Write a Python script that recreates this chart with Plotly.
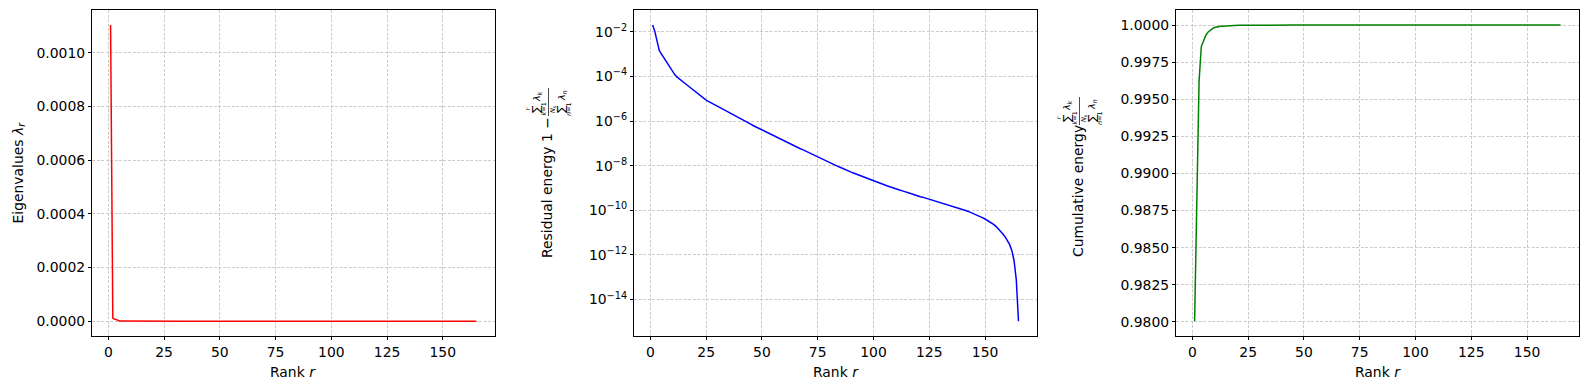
import plotly.graph_objects as go

W, H = 1590, 390

# ---------------- data ----------------
ranks = list(range(1, 166))

# log10 of residual energy 1 - sum_{k<=r} lambda_k / sum_n lambda_n, for r = 1..165
residual_log10 = [
    -1.70, -1.98, -2.42, -2.84, -3.00, -3.16, -3.32, -3.48, -3.63, -3.78,
    -3.93, -4.03, -4.12, -4.20, -4.28, -4.35, -4.43, -4.51, -4.59, -4.67,
    -4.75, -4.84, -4.93, -5.01, -5.06, -5.12, -5.17, -5.23, -5.28, -5.33,
    -5.39, -5.44, -5.50, -5.55, -5.60, -5.66, -5.71, -5.77, -5.82, -5.87,
    -5.93, -5.98, -6.04, -6.09, -6.14, -6.20, -6.25, -6.31, -6.36, -6.41,
    -6.46, -6.51, -6.55, -6.60, -6.65, -6.70, -6.75, -6.79, -6.84, -6.89,
    -6.94, -6.99, -7.03, -7.08, -7.13, -7.18, -7.23, -7.27, -7.32, -7.37,
    -7.42, -7.47, -7.51, -7.56, -7.61, -7.66, -7.70, -7.75, -7.80, -7.85,
    -7.89, -7.94, -7.98, -8.03, -8.07, -8.12, -8.16, -8.21, -8.25, -8.29,
    -8.33, -8.37, -8.41, -8.45, -8.49, -8.53, -8.57, -8.61, -8.65, -8.69,
    -8.72, -8.76, -8.79, -8.83, -8.86, -8.90, -8.93, -8.97, -9.00, -9.04,
    -9.07, -9.10, -9.13, -9.17, -9.20, -9.23, -9.26, -9.29, -9.33, -9.36,
    -9.39, -9.41, -9.44, -9.47, -9.50, -9.53, -9.55, -9.58, -9.61, -9.64,
    -9.67, -9.70, -9.73, -9.76, -9.79, -9.82, -9.855, -9.89, -9.925, -9.96,
    -9.995, -10.03, -10.07, -10.11, -10.155, -10.20, -10.245, -10.29, -10.34, -10.39,
    -10.445, -10.505, -10.57, -10.645, -10.73, -10.83, -10.94, -11.06, -11.19, -11.34,
    -11.53, -11.80, -12.25, -13.10, -14.97,
]
top_eigenvalue = 1.103e-3  # lambda_1

x_ticks = [0, 25, 50, 75, 100, 125, 150]
eig_ticks = [0.0, 0.0002, 0.0004, 0.0006, 0.0008, 0.0010]
res_tick_exps = [-2, -4, -6, -8, -10, -12, -14]
cum_ticks = [0.98, 0.9825, 0.985, 0.9875, 0.99, 0.9925, 0.995, 0.9975, 1.0]

# the three panels share the same eigenvalue spectrum
residual = [10 ** v for v in residual_log10]
total_energy = top_eigenvalue / (1 - residual[0])
cumulative = [1 - v for v in residual]
eigenvalues = [total_energy * (a - b) for a, b in zip([1.0] + residual[:-1], residual)]

# ---------------- layout helpers ----------------
def px(x):
    return x / W

def py(y):
    return 1 - y / H

def pad(lo, hi, f=0.05):
    d = (hi - lo) * f
    return [lo - d, hi + d]

FONT = "DejaVu Sans"
FS = 13.9
x_domains = [[px(92.3), px(494.5)], [px(634.3), px(1036.8)], [px(1176.3), px(1578.8)]]
y_domain = [py(336.0), py(10.3)]
x_range = pad(min(ranks), max(ranks))

common = dict(
    showline=True, linecolor="black", linewidth=0.8, mirror=True,
    ticks="outside", ticklen=3.5, tickwidth=0.8, tickcolor="black",
    showgrid=True, gridcolor="#cdcdcd", gridwidth=0.5, griddash="3px,1.5px",
    zeroline=False, automargin=False,
    tickfont=dict(family=FONT, size=FS, color="black"),
)

fig = go.Figure()
fig.add_trace(go.Scatter(x=ranks, y=eigenvalues, mode="lines",
                         line=dict(color="red", width=1.5), xaxis="x", yaxis="y"))
fig.add_trace(go.Scatter(x=ranks, y=residual, mode="lines",
                         line=dict(color="blue", width=1.5), xaxis="x2", yaxis="y2"))
fig.add_trace(go.Scatter(x=ranks, y=cumulative, mode="lines",
                         line=dict(color="green", width=1.5), xaxis="x3", yaxis="y3"))

layout = dict(
    width=W, height=H, margin=dict(l=0, r=0, t=0, b=0),
    paper_bgcolor="white", plot_bgcolor="white", showlegend=False,
    font=dict(family=FONT, size=FS, color="black"),
)
for i, dom in enumerate(x_domains):
    key = "xaxis" if i == 0 else f"xaxis{i+1}"
    layout[key] = dict(common, domain=dom, range=x_range, tickvals=x_ticks,
                       anchor="y" if i == 0 else f"y{i+1}")

res_lo, res_hi = min(residual_log10), max(residual_log10)
layout["yaxis"] = dict(common, domain=y_domain, anchor="x",
                       range=pad(0.0, max(eigenvalues)), tickvals=eig_ticks,
                       tickformat=".4f")
layout["yaxis2"] = dict(common, domain=y_domain, anchor="x2", type="log",
                        range=pad(res_lo, res_hi),
                        tickvals=[10 ** e for e in res_tick_exps],
                        ticktext=[f"10<sup>\u2212{-e}</sup>" for e in res_tick_exps])
layout["yaxis3"] = dict(common, domain=y_domain, anchor="x3",
                        range=pad(min(cumulative), max(cumulative)), tickvals=cum_ticks,
                        tickformat=".4f")
fig.update_layout(**layout)

# ---------------- axis labels ----------------
def label(x, y, text, size=FS, angle=-90):
    fig.add_annotation(x=px(x), y=py(y), xref="paper", yref="paper", text=text,
                       showarrow=False, textangle=angle, xanchor="center", yanchor="middle",
                       font=dict(family=FONT, size=size, color="black"))

for dom in x_domains:
    cx = (dom[0] + dom[1]) / 2 * W
    label(cx, 371.5, "Rank <i>r</i>", angle=0)

label(18.5, 173, "Eigenvalues <i>\u03bb</i><sub><i>r</i></sub>")


def fraction_label(xc, y_start, main_text, main_len):
    # main text (rotated), ending at y_start
    label(xc, y_start + main_len / 2, main_text)
    yb = y_start - 1
    bar_x = xc + 1.5
    fig.add_shape(type="line", xref="paper", yref="paper",
                  x0=px(bar_x), x1=px(bar_x), y0=py(yb - 1), y1=py(yb - 29),
                  line=dict(color="black", width=0.7))
    # numerator  (left of bar)
    label(xc - 11, yb - 8, "\u2211", size=11)
    label(xc - 19.5, yb - 8, "<i>r</i>", size=6.5)
    label(xc - 3.5, yb - 8, "<i>k</i>=1", size=6.5)
    label(xc - 10, yb - 21, "<i>\u03bb</i><sub><i>k</i></sub>", size=9.5)
    # denominator (right of bar)
    label(xc + 14, yb - 8, "\u2211", size=11)
    label(xc + 6, yb - 8, "<i>N</i><sub>s</sub>", size=6.5)
    label(xc + 22, yb - 8, "<i>n</i>=1", size=6.5)
    label(xc + 15, yb - 21, "<i>\u03bb</i><sub><i>n</i></sub>", size=9.5)


fraction_label(547, 118, "Residual energy 1 \u2212", 140)
fraction_label(1078, 127, "Cumulative energy", 128)

fig.write_html("out.html", config={"displayModeBar": False},
               post_script="document.body.style.margin='0';")
